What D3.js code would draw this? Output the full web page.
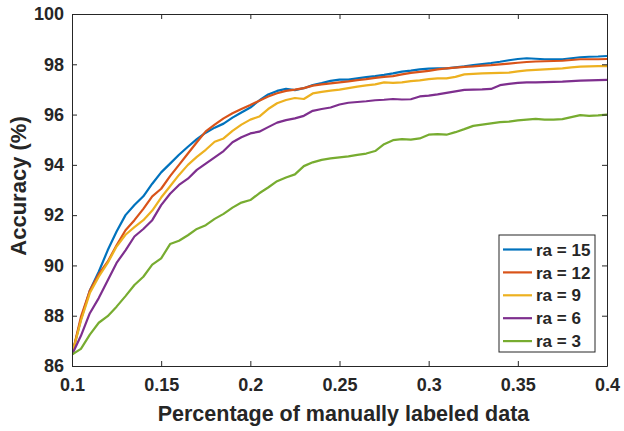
<!DOCTYPE html>
<html>
<head>
<meta charset="utf-8">
<script src="https://cdn.jsdelivr.net/npm/d3@7"></script>
<style>
  html, body { margin: 0; padding: 0; background: #fff; }
  svg { display: block; }
  text { font-family: "Liberation Sans", Arial, Helvetica, sans-serif; font-weight: bold; fill: #262626; }
</style>
</head>
<body>
<svg id="chart" width="624" height="431"></svg>
<script>
// ---- data ----
const xValues = [0.100,0.105,0.110,0.115,0.120,0.125,0.130,0.135,0.140,0.145,0.150,0.155,0.160,0.165,0.170,0.175,0.180,0.185,0.190,0.195,0.200,0.205,0.210,0.215,0.220,0.225,0.230,0.235,0.240,0.245,0.250,0.255,0.260,0.265,0.270,0.275,0.280,0.285,0.290,0.295,0.300,0.305,0.310,0.315,0.320,0.325,0.330,0.335,0.340,0.345,0.350,0.355,0.360,0.365,0.370,0.375,0.380,0.385,0.390,0.395,0.400];

const ra15 = [86.45,87.85,89.00,89.75,90.60,91.35,92.00,92.40,92.75,93.25,93.70,94.05,94.40,94.72,95.02,95.28,95.48,95.64,95.88,96.08,96.28,96.56,96.80,96.94,97.02,96.97,97.05,97.17,97.25,97.34,97.39,97.39,97.44,97.49,97.53,97.58,97.64,97.71,97.75,97.80,97.83,97.84,97.84,97.88,97.92,97.97,98.01,98.05,98.10,98.16,98.21,98.24,98.22,98.20,98.20,98.20,98.24,98.28,98.30,98.31,98.33];
const ra12 = [86.45,87.95,89.00,89.65,90.15,90.80,91.40,91.80,92.25,92.75,93.05,93.55,94.00,94.45,94.90,95.33,95.60,95.85,96.05,96.22,96.38,96.55,96.72,96.85,96.94,96.99,97.05,97.15,97.20,97.24,97.28,97.32,97.37,97.41,97.46,97.50,97.53,97.60,97.66,97.70,97.74,97.80,97.84,97.87,97.90,97.92,97.95,97.97,98.00,98.03,98.06,98.09,98.11,98.12,98.13,98.14,98.17,98.20,98.20,98.20,98.21];
const ra9  = [86.45,87.80,88.90,89.55,90.10,90.75,91.22,91.52,91.80,92.18,92.70,93.15,93.60,94.00,94.32,94.60,94.92,95.05,95.35,95.60,95.80,95.92,96.22,96.45,96.58,96.66,96.62,96.84,96.90,96.95,96.99,97.05,97.11,97.16,97.20,97.28,97.26,97.28,97.33,97.36,97.41,97.44,97.44,97.50,97.60,97.62,97.64,97.65,97.66,97.67,97.72,97.76,97.78,97.80,97.82,97.84,97.88,97.91,97.92,97.93,97.93];
const ra6  = [86.45,87.20,88.10,88.70,89.40,90.10,90.60,91.15,91.45,91.80,92.40,92.85,93.20,93.45,93.80,94.05,94.30,94.55,94.90,95.10,95.25,95.32,95.50,95.68,95.78,95.85,95.95,96.15,96.22,96.28,96.40,96.47,96.50,96.53,96.57,96.59,96.62,96.60,96.61,96.72,96.75,96.80,96.86,96.92,96.98,96.99,97.00,97.02,97.17,97.22,97.26,97.28,97.28,97.29,97.30,97.31,97.33,97.35,97.36,97.37,97.38];
const ra3  = [86.45,86.68,87.25,87.72,87.98,88.36,88.78,89.22,89.55,90.03,90.28,90.85,90.98,91.20,91.45,91.60,91.85,92.05,92.30,92.50,92.60,92.87,93.10,93.35,93.50,93.62,93.95,94.10,94.20,94.26,94.30,94.34,94.40,94.45,94.55,94.82,94.98,95.02,95.00,95.05,95.20,95.22,95.20,95.30,95.42,95.55,95.60,95.65,95.70,95.72,95.77,95.80,95.83,95.80,95.80,95.82,95.90,95.98,95.95,95.97,96.00];

const seriesNames = ["ra = 15", "ra = 12", "ra = 9", "ra = 6", "ra = 3"];
const seriesValues = [ra15, ra12, ra9, ra6, ra3];
const seriesColors = ["#0072BD", "#D95319", "#EDB120", "#7E2F8E", "#77AC30"];

const xTicks = [0.1, 0.15, 0.2, 0.25, 0.3, 0.35, 0.4];
const xTickLabels = ["0.1", "0.15", "0.2", "0.25", "0.3", "0.35", "0.4"];
const yTicks = [86, 88, 90, 92, 94, 96, 98, 100];
const yTickLabels = ["86", "88", "90", "92", "94", "96", "98", "100"];

const xLabel = "Percentage of manually labeled data";
const yLabel = "Accuracy (%)";

// ---- layout ----
const L = 72, R = 607, T = 14, B = 366;
const svg = d3.select("#chart");

const x = d3.scaleLinear().domain([0.1, 0.4]).range([L, R]);
const y = d3.scaleLinear().domain([86, 100]).range([B, T]);

const axisColor = "#262626";
const tickLen = 5;

// clip
svg.append("defs").append("clipPath").attr("id", "clip")
  .append("rect").attr("x", L).attr("y", T).attr("width", R - L).attr("height", B - T);

// series lines
const line = d3.line().x((d, i) => x(xValues[i])).y(d => y(d));
const gLines = svg.append("g").attr("clip-path", "url(#clip)");
seriesValues.forEach((vals, k) => {
  gLines.append("path")
    .datum(vals)
    .attr("d", line)
    .attr("fill", "none")
    .attr("stroke", seriesColors[k])
    .attr("stroke-width", 2.2)
    .attr("stroke-linejoin", "round");
});

// axes (box with mirrored inward ticks)
const xAxisB = d3.axisBottom(x).tickValues(xTicks).tickFormat((d, i) => xTickLabels[i]).tickSizeInner(-tickLen).tickSizeOuter(0).tickPadding(12);
const xAxisT = d3.axisTop(x).tickValues(xTicks).tickFormat("").tickSizeInner(-tickLen).tickSizeOuter(0);
const yAxisL = d3.axisLeft(y).tickValues(yTicks).tickFormat((d, i) => yTickLabels[i]).tickSizeInner(-tickLen).tickSizeOuter(0).tickPadding(8);
const yAxisR = d3.axisRight(y).tickValues(yTicks).tickFormat("").tickSizeInner(-tickLen).tickSizeOuter(0);

function styleAxis(g) {
  g.select(".domain").attr("stroke", axisColor).attr("stroke-width", 1);
  g.selectAll(".tick line").attr("stroke", axisColor).attr("stroke-width", 1);
  g.selectAll(".tick text").attr("fill", axisColor)
    .style("font-family", '"Liberation Sans", Arial, sans-serif')
    .style("font-weight", "bold").style("font-size", "18px");
}

svg.append("g").attr("transform", `translate(0,${B})`).call(xAxisB).call(styleAxis);
svg.append("g").attr("transform", `translate(0,${T})`).call(xAxisT).call(styleAxis);
svg.append("g").attr("transform", `translate(${L},0)`).call(yAxisL).call(styleAxis);
svg.append("g").attr("transform", `translate(${R},0)`).call(yAxisR).call(styleAxis);

// axis labels
svg.append("text")
  .attr("x", (L + R) / 2 + 4).attr("y", 421)
  .attr("text-anchor", "middle")
  .style("font-size", "21.5px")
  .text(xLabel);

svg.append("text")
  .attr("transform", `translate(26,${186}) rotate(-90)`)
  .attr("text-anchor", "middle")
  .style("font-size", "22px")
  .text(yLabel);

// legend
const lgX = 499, lgY = 235, lgW = 96, lgH = 117;
const lg = svg.append("g");
lg.append("rect").attr("x", lgX).attr("y", lgY).attr("width", lgW).attr("height", lgH)
  .attr("fill", "#fff").attr("stroke", axisColor).attr("stroke-width", 1);
seriesNames.forEach((name, k) => {
  const cy = lgY + 14.5 + k * 22.9;
  lg.append("line").attr("x1", lgX + 4).attr("x2", lgX + 33).attr("y1", cy).attr("y2", cy)
    .attr("stroke", seriesColors[k]).attr("stroke-width", 2.2);
  lg.append("text").attr("x", lgX + 37).attr("y", cy).attr("dy", "0.36em")
    .style("font-size", "17px").text(name);
});
</script>
</body>
</html>
